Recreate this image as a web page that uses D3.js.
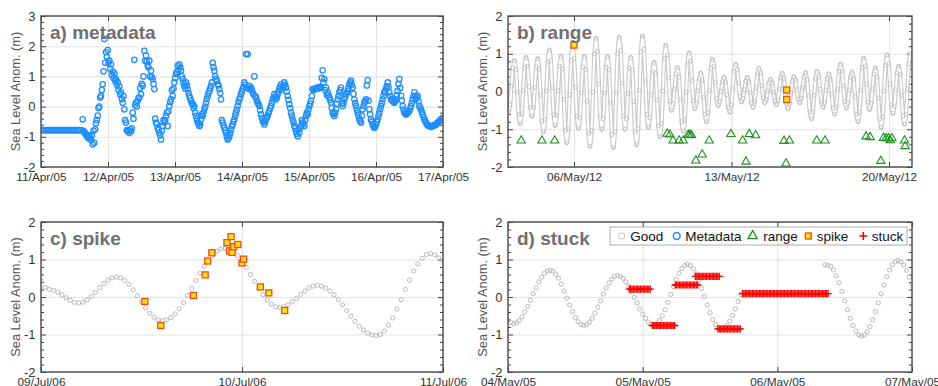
<!DOCTYPE html>
<html>
<head>
<meta charset="utf-8">
<script src="https://cdn.jsdelivr.net/npm/d3@7"></script>
<style>
body { margin: 0; background: #fff; }
svg { display: block; font-family: "Liberation Sans", Arial, Helvetica, sans-serif; }
</style>
</head>
<body>
<svg id="chart" width="938" height="386"></svg>
<script>
// ---------------- data ----------------
// a) metadata : one reading every ~36 min from 11/Apr/05 00:00
var aStart = Date.UTC(2005, 3, 11);
var aStepMin = 35.82;
var aMeta = [
  -0.78,-0.78,-0.78,-0.78,-0.78,-0.78,-0.78,-0.78,-0.78,-0.78,-0.78,-0.78,-0.78,-0.78,-0.78,-0.78,-0.78,-0.78,-0.78,-0.78,-0.78,-0.78,-0.78,-0.78,-0.78,
  -0.42,-0.85,-0.92,-1.00,-0.95,-1.10,-1.25,-1.20,-0.55,-0.30,0.00,0.36,0.74,2.24,1.80,1.87,1.52,1.40,1.16,1.10,0.91,0.80,0.67,0.47,0.13,-0.09,-0.53,-0.81,-0.87,-0.82,
  -0.20,1.55,0.13,0.19,0.30,0.41,0.69,1.85,1.69,1.36,1.52,1.19,0.91,0.58,-0.53,-0.70,-0.87,-1.09,-0.64,-0.53,-0.31,-0.64,0.02,0.24,0.36,0.80,1.08,1.36,1.40,1.19,
  0.91,0.69,0.80,0.58,0.36,0.19,0.08,0.02,-0.31,-0.53,-0.64,-0.42,-0.31,-0.09,0.13,0.36,0.52,0.69,1.45,1.19,0.91,0.74,0.58,0.24,-0.53,-0.70,-0.87,-1.09,-0.98,-0.76,
  -0.59,-0.42,-0.20,0.02,0.24,0.41,0.58,0.80,1.74,1.74,0.69,0.63,0.47,1.00,0.30,0.13,0.02,-0.26,-0.48,-0.59,-0.42,-0.31,-0.14,0.02,0.24,0.41,0.24,0.41,0.58,0.74,
  0.63,0.80,0.63,0.36,0.08,-0.20,-0.42,-0.64,-0.81,-0.98,-0.87,-0.64,-0.53,-0.64,-0.31,-0.26,0.02,0.19,0.58,0.60,0.60,0.63,0.63,0.63,1.20,0.91,0.63,0.47,0.30,0.13,
  -0.20,-0.31,-0.09,0.24,0.47,0.63,0.02,0.24,0.41,0.52,0.74,0.86,0.63,0.24,0.02,-0.20,-0.42,-0.53,-0.09,0.13,0.24,0.88,-0.09,-0.42,-0.59,-0.70,-0.59,-0.42,-0.20,0.02,
  0.24,0.47,0.58,0.80,0.47,0.24,0.19,0.13,0.24,0.52,0.91,0.36,0.02,-0.20,-0.26,-0.20,-0.14,0.02,0.24,0.47,0.24,0.36,0.02,-0.09,-0.26,-0.42,-0.53,-0.62,-0.64,-0.67,
  -0.64,-0.62,-0.59,-0.53,-0.48,-0.42,-0.37
];
// second set of metadata readings, half a step later, starting at reading 25.5
var aMeta2Offset = 25.5;
var aMeta2 = [
  -0.80,-0.88,-0.98,-1.05,-1.02,-0.95,-0.80,-0.75,-0.45,-0.05,0.30,0.55,1.17,1.45,1.65,1.45,1.25,1.05,0.95,0.85,
  0.72,0.55,0.40,0.25,0.35,-0.45,-0.78,-0.80,-0.76,-0.72,-0.40,0.05,0.00,0.28,0.62,0.75,1.00,1.52,1.50,1.30,
  1.00,0.98,0.75,-0.40,-0.58,-0.78,-0.95,-0.80,-0.45,-0.45,-0.20,-0.15,0.15,0.55,0.60,0.95,1.15,1.20,1.30,1.00,
  0.78,0.60,0.70,0.45,0.28,0.12,-0.05,-0.20,-0.42,-0.55,-0.60,-0.25,-0.20,0.00,0.25,0.45,0.60,0.80,1.30,1.00,
  0.85,0.70,0.45,-0.45,-0.62,-0.78,-0.98,-1.05,-0.88,-0.65,-0.50,-0.30,-0.10,0.15,0.30,0.50,0.65,0.72,0.62,0.60,
  0.58,0.55,0.40,0.35,0.20,0.08,-0.12,-0.38,-0.52,-0.50,-0.35,-0.22,-0.05,0.12,0.30,0.33,0.30,0.50,0.66,0.55,
  0.70,0.72,0.50,0.22,-0.05,-0.30,-0.52,-0.72,-0.90,-0.75,-0.70,-0.45,-0.58,-0.45,-0.20,-0.10,0.10,0.35,0.55,0.58,
  0.62,0.60,0.65,0.95,0.80,0.55,0.38,0.38,0.22,-0.05,-0.25,-0.20,0.10,0.35,0.55,0.10,0.12,0.33,0.45,0.62,
  0.80,0.72,0.42,0.12,-0.10,-0.30,-0.48,-0.30,0.02,0.18,0.70,0.20,-0.25,-0.50,-0.65,-0.66,-0.50,-0.30,-0.08,0.12,
  0.35,0.52,0.68,0.65,0.35,0.22,0.16,0.18,0.38,0.75,0.62,0.20,-0.10,-0.22,-0.24,-0.18,-0.06,0.12,0.35,0.36,
  0.30,0.18,-0.03,-0.18,-0.34,-0.48,-0.58,-0.63,-0.66,-0.66,-0.63,-0.61,-0.56,-0.51,-0.45,-0.40
];

// b) range : good readings every 93.15 min from 03/May/12 02:13
var bStart = Date.UTC(2012, 4, 3, 2, 13);
var bStepMin = 93.15;
var bGood = [
  -0.55,-0.35,0.14,0.62, 0.82,0.58,-0.02,-0.61, -0.85,-0.59,0.03,0.64, 0.90,0.67,0.13,-0.42,
  -0.65,-0.43,0.11,0.65, 0.87,0.59,-0.10,-0.79, -1.07,-0.75,0.02,0.78, 1.10,0.81,0.10,-0.61,
  -0.90,-0.63,0.02,0.67, 0.94,0.60,-0.21,-1.02, -1.36,-0.99,-0.09,0.82, 1.19,0.87,0.11,-0.66,
  -0.98,-0.70,-0.03,0.65, 0.93,0.58,-0.26,-1.10, -1.45,-1.03,-0.02,0.99, 1.41,1.06,0.21,-0.65,
  -1.00,-0.72,-0.04,0.64, 0.92,0.57,-0.29,-1.14, -1.49,-1.06,-0.03,1.01, 1.44,1.08,0.22,-0.64,
  -1.00,-0.72,-0.05,0.62, 0.90,0.56,-0.26,-1.07, -1.41,-0.99,0.03,1.05, 1.47,1.12,0.26,-0.60,
  -0.95,-0.70,-0.09,0.52, 0.77,0.48,-0.22,-0.91, -1.20,-0.85,0.01,0.87, 1.22,0.97,0.36,-0.25,
  -0.50,-0.33,0.07,0.47, 0.63,0.38,-0.21,-0.80, -1.05,-0.75,-0.02,0.72, 1.02,0.81,0.29,-0.24,
  -0.45,-0.31,0.02,0.35, 0.49,0.30,-0.16,-0.61, -0.80,-0.56,0.03,0.61, 0.85,0.67,0.24,-0.19,
  -0.37,-0.26,0.00,0.26, 0.37,0.24,-0.09,-0.42, -0.55,-0.36,0.09,0.53, 0.72,0.57,0.22,-0.13,
  -0.28,-0.18,0.05,0.27, 0.37,0.25,-0.03,-0.30, -0.42,-0.27,0.10,0.47, 0.62,0.49,0.16,-0.17,
  -0.30,-0.21,0.01,0.23, 0.32,0.22,-0.02,-0.25, -0.35,-0.23,0.07,0.36, 0.48,0.34,0.01,-0.32,
  -0.46,-0.33,-0.03,0.27, 0.40,0.30,0.05,-0.20, -0.30,-0.18,0.10,0.38, 0.50,0.32,-0.11,-0.54,
  -0.72,-0.54,-0.10,0.35, 0.53,0.39,0.06,-0.28, -0.42,-0.29,0.03,0.34, 0.47,0.31,-0.07,-0.44,
  -0.60,-0.41,0.06,0.53, 0.72,0.55,0.14,-0.27, -0.44,-0.30,0.04,0.38, 0.52,0.33,-0.14,-0.61,
  -0.80,-0.55,0.04,0.63, 0.88,0.68,0.20,-0.28, -0.48,-0.32,0.07,0.46, 0.62,0.39,-0.17,-0.72,
  -0.95,-0.67,0.01,0.69, 0.97,0.74,0.20,-0.35, -0.58,-0.40,0.05,0.49, 0.67,0.45,-0.10,-0.65,
  -0.87,-0.60,0.07,0.73, 1.00
];
// flagged points, in days from 06/May/12 00:00
var bRef = Date.UTC(2012, 4, 6);
var bRangeDay = [-2.344,-1.424,-0.861,4.139,4.258,4.407,4.674,4.852,5.074,5.148,5.223,5.415,5.697,6.009,6.973,7.493,7.641,
                 7.789,8.071,9.332,9.421,9.570,10.786,11.157,12.982,13.160,13.635,13.754,13.872,13.976,14.050,14.125,14.688,14.718];
var bRangeVal = [-1.30,-1.30,-1.30,-1.12,-1.14,-1.30,-1.30,-1.30,-1.15,-1.15,-1.16,-1.83,-1.67,-1.30,-1.13,-1.30,-1.86,
                 -1.13,-1.16,-1.31,-1.91,-1.30,-1.30,-1.30,-1.19,-1.21,-1.84,-1.23,-1.24,-1.24,-1.29,-1.24,-1.30,-1.45];
var bSpikeDay = [0.0, 9.45, 9.45];
var bSpikeVal = [1.23, 0.04, -0.21];

// c) spike : good readings every 30 min from 09/Jul/06 00:00
var cStart = Date.UTC(2006, 6, 9);
var cStepMin = 30;
var cGood = [
  0.42,0.26,0.20,0.18,0.13,0.06,-0.02,-0.09,-0.14,-0.16,-0.14,-0.08,0.01,0.12,0.25,0.36,0.45,0.51,0.53,0.51,
  0.44,0.33,0.19,0.03,-0.13,-0.29,-0.43,-0.54,-0.61,-0.63,-0.61,-0.55,-0.45,-0.31,-0.15,0.04,0.23,0.44,0.63,0.82,
  0.98,1.12,1.22,1.28,1.30,1.28,1.21,1.10,0.96,0.79,0.60,0.42,0.23,0.06,-0.08,-0.19,-0.26,-0.28,-0.26,-0.21,
  -0.13,-0.04,0.07,0.16,0.24,0.29,0.31,0.29,0.24,0.16,0.06,-0.07,-0.21,-0.36,-0.51,-0.65,-0.78,-0.88,-0.96,-1.01,
  -1.03,-1.00,-0.91,-0.75,-0.56,-0.32,-0.07,0.20,0.45,0.69,0.88,1.03,1.13,1.16,1.12,1.04,0.96
];
var cSpikeHour = [12.4,14.3,18.2,19.6,19.9,20.4,22.2,22.5,22.7,22.8,23.0,23.5,24.0,24.2,26.2,27.2,29.1];
var cSpikeVal  = [-0.12,-0.76,0.04,0.59,0.96,1.18,1.45,1.23,1.61,1.19,1.34,1.40,0.91,1.01,0.27,0.11,-0.36];

// d) stuck : good readings every 30 min from 04/May/05 00:00 (null = removed)
var dStart = Date.UTC(2005, 4, 4);
var dStepMin = 30;
var dGood = [
  -0.62,-0.68,-0.71,-0.69,-0.63,-0.53,-0.40,-0.25,-0.09,0.09,0.25,0.40,0.53,0.63,0.69,0.71,0.69,0.61,0.50,0.34,
  0.16,-0.03,-0.21,-0.39,-0.55,-0.66,-0.73,-0.76,-0.74,-0.67,-0.57,-0.43,-0.27,-0.10,0.08,0.24,0.38,0.48,0.55,0.57,
  0.55,0.50,0.40,0.29,0.15,-0.01,-0.16,-0.32,-0.46,-0.57,-0.67,-0.72,-0.74,-0.71,-0.63,-0.50,-0.34,-0.14,0.07,0.27,
  0.47,0.63,0.76,0.84,0.87,0.84,0.75,0.62,0.44,0.23,0.01,-0.21,-0.42,-0.60,-0.73,-0.82,-0.85,-0.83,-0.76,-0.64,
  -0.49,-0.32,-0.12,0.07,
  null,null,null,null,null,null,null,null,null,null,null,null,null,null,null,null,null,null,null,null,null,null,null,null,null,null,null,null,null,
  0.86,0.85,0.82,0.72,0.57,0.38,0.15,-0.10,-0.34,-0.57,-0.76,-0.91,-1.01,-1.04,-1.01,-0.93,-0.79,-0.61,-0.39,-0.16,
  0.09,0.32,0.54,0.72,0.86,0.94,0.97,0.94,0.85,0.71,0.53,0.33
];
// stuck stretches (hours from 04/May/05 00:00), 15-min readings
var dStuckFrom = [21.6, 25.7, 29.8, 33.4, 37.4, 41.8];
var dStuckTo   = [25.5, 29.9, 33.8, 37.8, 41.4, 57.2];
var dStuckVal  = [0.21, -0.76, 0.32, 0.55, -0.85, 0.09];

var legendNames = ['Good', 'Metadata', 'range', 'spike', 'stuck'];

// ---------------- drawing ----------------
var svg = d3.select('#chart');
var fmt = d3.utcFormat('%d/%b/%y');
var HOUR = 3600000, DAY = 86400000;

var col = {
  good: '#b2b2b2',
  meta: '#1e8fff',
  range: '#1f8f1f',
  spikeFill: '#ffe800',
  spikeStroke: '#f4471e',
  stuck: '#ff0000'
};

var panelCount = 0;
function makePanel(box, xDomain, yDomain, xTicks, title) {
  var id = 'clip' + (panelCount++);
  var w = box.x1 - box.x0, h = box.y1 - box.y0;
  var x = d3.scaleUtc().domain(xDomain).range([box.x0, box.x1]);
  var y = d3.scaleLinear().domain(yDomain).range([box.y1, box.y0]);
  var yTicks = d3.range(yDomain[0], yDomain[1] + 0.001, 1);
  var yMinor = d3.range(yDomain[0], yDomain[1] + 0.001, 0.2).filter(function (v) {
    return Math.abs(v - Math.round(v)) > 0.01;
  });
  var g = svg.append('g');

  svg.append('clipPath').attr('id', id)
    .append('rect').attr('x', box.x0).attr('y', box.y0).attr('width', w).attr('height', h);

  // grid lines
  g.append('g').attr('class', 'grid').attr('transform', 'translate(0,' + box.y1 + ')')
    .call(d3.axisBottom(x).tickValues(xTicks).tickSize(-h).tickFormat(''));
  g.append('g').attr('class', 'grid').attr('transform', 'translate(' + box.x0 + ',0)')
    .call(d3.axisLeft(y).tickValues(yTicks).tickSize(-w).tickFormat(''));
  g.selectAll('.grid .domain').remove();
  g.selectAll('.grid line').attr('stroke', '#e4e4e4').attr('stroke-width', 1.1);

  // inward ticks on all four sides
  var tk = g.append('g').attr('class', 'ticks');
  tk.append('g').attr('transform', 'translate(0,' + box.y1 + ')').call(d3.axisBottom(x).tickValues(xTicks).tickSize(-5).tickFormat(''));
  tk.append('g').attr('transform', 'translate(0,' + box.y0 + ')').call(d3.axisTop(x).tickValues(xTicks).tickSize(-5).tickFormat(''));
  tk.append('g').attr('transform', 'translate(' + box.x0 + ',0)').call(d3.axisLeft(y).tickValues(yTicks).tickSize(-5).tickFormat(''));
  tk.append('g').attr('transform', 'translate(' + box.x1 + ',0)').call(d3.axisRight(y).tickValues(yTicks).tickSize(-5).tickFormat(''));
  tk.append('g').attr('transform', 'translate(' + box.x0 + ',0)').call(d3.axisLeft(y).tickValues(yMinor).tickSize(-3).tickFormat(''));
  tk.append('g').attr('transform', 'translate(' + box.x1 + ',0)').call(d3.axisRight(y).tickValues(yMinor).tickSize(-3).tickFormat(''));
  tk.selectAll('.domain').remove();
  tk.selectAll('line').attr('stroke', '#444').attr('stroke-width', 1);

  // tick labels
  var xl = g.append('g').attr('transform', 'translate(0,' + box.y1 + ')')
    .call(d3.axisBottom(x).tickValues(xTicks).tickSize(0).tickPadding(6).tickFormat(fmt));
  xl.select('.domain').remove();
  xl.selectAll('text').attr('font-size', 11.8).attr('fill', '#333').attr('font-family', null);
  var yl = g.append('g').attr('transform', 'translate(' + box.x0 + ',0)')
    .call(d3.axisLeft(y).tickValues(yTicks).tickSize(0).tickPadding(5.5).tickFormat(d3.format('d')));
  yl.select('.domain').remove();
  yl.selectAll('text').attr('font-size', 13).attr('fill', '#333').attr('font-family', null)
    .text(function (d) { return d < 0 ? '-' + Math.abs(d) : d; });

  // y label
  g.append('text')
    .attr('transform', 'translate(' + (box.x0 - 25.5) + ',' + ((box.y0 + box.y1) / 2) + ') rotate(-90)')
    .attr('text-anchor', 'middle').attr('dy', '0.35em')
    .attr('font-size', 12.8).attr('fill', '#555')
    .text('Sea Level Anom. (m)');

  var plot = svg.append('g').attr('clip-path', 'url(#' + id + ')');

  // frame + title drawn on top of the marks
  var top = svg.append('g');
  top.append('rect').attr('x', box.x0).attr('y', box.y0).attr('width', w).attr('height', h)
    .attr('fill', 'none').attr('stroke', '#4a4a4a').attr('stroke-width', 1.4);
  top.append('text').attr('x', box.x0 + 9).attr('y', box.y0 + 22.5)
    .attr('font-size', 19).attr('font-weight', 'bold').attr('fill', '#707070')
    .text(title);

  return { x: x, y: y, plot: plot, top: top };
}

function seriesFrom(start, stepMin, values, offset) {
  offset = offset || 0;
  return values.map(function (v, i) { return { t: new Date(start + (i + offset) * stepMin * 60000), v: v }; })
    .filter(function (d) { return d.v !== null; });
}

function drawCircles(p, data, r, color, sw) {
  p.plot.append('g').selectAll('circle').data(data).join('circle')
    .attr('cx', function (d) { return p.x(d.t); })
    .attr('cy', function (d) { return p.y(d.v); })
    .attr('r', r).attr('fill', 'none').attr('stroke', color).attr('stroke-width', sw);
}

var triPath = d3.symbol().type(d3.symbolTriangle).size(30)();
function drawTriangles(p, data) {
  p.plot.append('g').selectAll('path').data(data).join('path')
    .attr('d', triPath)
    .attr('transform', function (d) { return 'translate(' + p.x(d.t) + ',' + p.y(d.v) + ')'; })
    .attr('fill', 'none').attr('stroke', col.range).attr('stroke-width', 1.1);
}
function drawSquares(p, data) {
  p.plot.append('g').selectAll('rect').data(data).join('rect')
    .attr('x', function (d) { return p.x(d.t) - 3; })
    .attr('y', function (d) { return p.y(d.v) - 3; })
    .attr('width', 6).attr('height', 6)
    .attr('fill', col.spikeFill).attr('stroke', col.spikeStroke).attr('stroke-width', 1.3);
}
function drawPluses(p, data) {
  p.plot.append('g').selectAll('path').data(data).join('path')
    .attr('d', 'M-3.6,0H3.6M0,-3.6V3.6')
    .attr('transform', function (d) { return 'translate(' + p.x(d.t) + ',' + p.y(d.v) + ')'; })
    .attr('fill', 'none').attr('stroke', col.stuck).attr('stroke-width', 1.3);
}

// ---- panel a ----
var pa = makePanel({ x0: 41, x1: 443, y0: 16, y1: 167 },
  [new Date(Date.UTC(2005, 3, 11)), new Date(Date.UTC(2005, 3, 17))], [-2, 3],
  d3.utcDay.range(new Date(Date.UTC(2005, 3, 11)), new Date(Date.UTC(2005, 3, 17, 1))), 'a) metadata');
drawCircles(pa, seriesFrom(aStart, aStepMin, aMeta), 2.7, col.meta, 1.3);
drawCircles(pa, seriesFrom(aStart, aStepMin, aMeta2, aMeta2Offset), 2.7, col.meta, 1.3);

// ---- panel b ----
var pb = makePanel({ x0: 508, x1: 912, y0: 16, y1: 167 },
  [new Date(bRef - 2.933 * DAY), new Date(bRef + 15.02 * DAY)], [-2, 2],
  [new Date(Date.UTC(2012, 4, 6)), new Date(Date.UTC(2012, 4, 13)), new Date(Date.UTC(2012, 4, 20))], 'b) range');
var bData = seriesFrom(bStart, bStepMin, bGood);
var bLine = d3.line().x(function (d) { return pb.x(d.t); }).y(function (d) { return pb.y(d.v); })
  .curve(d3.curveCatmullRom.alpha(0.5));
pb.plot.append('path').datum(bData).attr('d', bLine).attr('fill', 'none')
  .attr('stroke', '#cdcdcd').attr('stroke-width', 4.4);
pb.plot.append('path').datum(bData).attr('d', bLine).attr('fill', 'none')
  .attr('stroke', '#fff').attr('stroke-width', 2.0);
drawCircles(pb, bData, 2, '#bdbdbd', 0.8);
drawTriangles(pb, bRangeDay.map(function (d, i) { return { t: new Date(bRef + d * DAY), v: bRangeVal[i] }; }));
drawSquares(pb, bSpikeDay.map(function (d, i) { return { t: new Date(bRef + d * DAY), v: bSpikeVal[i] }; }));

// ---- panel c ----
var pc = makePanel({ x0: 41, x1: 443, y0: 222, y1: 372 },
  [new Date(Date.UTC(2006, 6, 9)), new Date(Date.UTC(2006, 6, 11))], [-2, 2],
  d3.utcDay.range(new Date(Date.UTC(2006, 6, 9)), new Date(Date.UTC(2006, 6, 11, 1))), 'c) spike');
drawCircles(pc, seriesFrom(cStart, cStepMin, cGood), 2.1, col.good, 0.9);
drawSquares(pc, cSpikeHour.map(function (h, i) { return { t: new Date(cStart + h * HOUR), v: cSpikeVal[i] }; }));

// ---- panel d ----
var pd = makePanel({ x0: 508, x1: 912, y0: 222, y1: 372 },
  [new Date(Date.UTC(2005, 4, 4)), new Date(Date.UTC(2005, 4, 7))], [-2, 2],
  d3.utcDay.range(new Date(Date.UTC(2005, 4, 4)), new Date(Date.UTC(2005, 4, 7, 1))), 'd) stuck');
drawCircles(pd, seriesFrom(dStart, dStepMin, dGood), 2.1, col.good, 0.9);
var stuckPts = [];
dStuckFrom.forEach(function (f, i) {
  d3.range(f, dStuckTo[i] + 0.001, 0.25).forEach(function (h) {
    stuckPts.push({ t: new Date(dStart + h * HOUR), v: dStuckVal[i] });
  });
});
drawPluses(pd, stuckPts);

// ---- legend ----
var lg = pd.top.append('g');
lg.append('rect').attr('x', 610).attr('y', 227).attr('width', 297).attr('height', 18)
  .attr('fill', '#fff').attr('stroke', '#999').attr('stroke-width', 0.8);
var lx = [621.7, 676.7, 752.7, 808.3, 863.3];
var ly = 236;
lg.append('circle').attr('cx', lx[0]).attr('cy', ly).attr('r', 3.2).attr('fill', 'none').attr('stroke', '#c4c4c4').attr('stroke-width', 1);
lg.append('circle').attr('cx', lx[1]).attr('cy', ly).attr('r', 3.4).attr('fill', 'none').attr('stroke', col.meta).attr('stroke-width', 1.5);
lg.append('path').attr('d', d3.symbol().type(d3.symbolTriangle).size(38)()).attr('transform', 'translate(' + lx[2] + ',' + ly + ')')
  .attr('fill', 'none').attr('stroke', col.range).attr('stroke-width', 1.3);
lg.append('rect').attr('x', lx[3] - 3).attr('y', ly - 3).attr('width', 6).attr('height', 6)
  .attr('fill', col.spikeFill).attr('stroke', col.spikeStroke).attr('stroke-width', 1.3);
lg.append('path').attr('d', 'M-4,0H4M0,-4V4').attr('transform', 'translate(' + lx[4] + ',' + ly + ')')
  .attr('stroke', col.stuck).attr('stroke-width', 1.6);
lg.selectAll('text.lab').data(legendNames).join('text').attr('class', 'lab')
  .attr('x', function (d, i) { return lx[i] + (i === 2 ? 10.5 : 8.5); })
  .attr('y', ly).attr('dy', '0.35em')
  .attr('font-size', 13.5).attr('fill', '#111')
  .text(function (d) { return d; });
</script>
</body>
</html>
